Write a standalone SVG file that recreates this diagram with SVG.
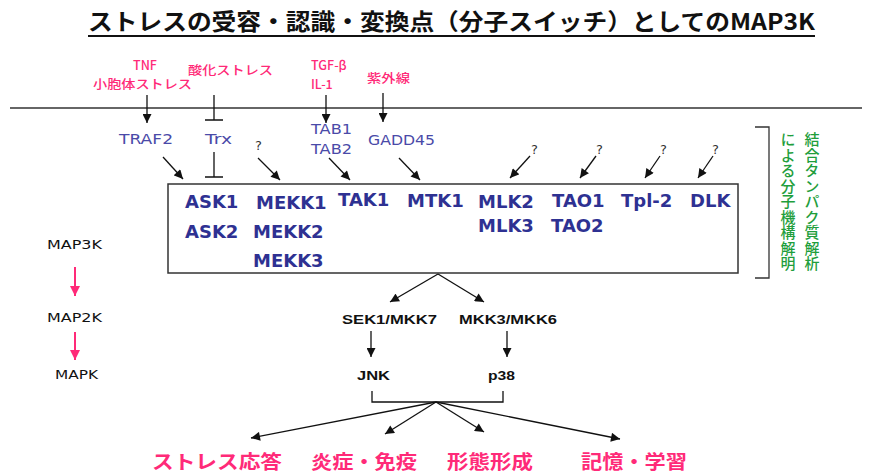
<svg xmlns="http://www.w3.org/2000/svg" width="870" height="475" viewBox="0 0 870 475">
<defs>
<style>
.title{font-family:"Noto Sans CJK JP","Noto Sans",sans-serif;font-weight:700;font-size:23px;fill:#111}
.pink{font-family:"Noto Sans CJK JP","Noto Sans",sans-serif;font-weight:500;font-size:12.5px;fill:#ff2a78}
.thin{font-family:"DejaVu Sans","Noto Sans",sans-serif;font-size:14px;fill:#4a4aa8}
.kin{font-family:"DejaVu Sans","Noto Sans",sans-serif;font-weight:700;font-size:18px;fill:#2e3192}
.q{font-family:"DejaVu Sans",sans-serif;font-size:13px;fill:#333}
.lvl{font-family:"DejaVu Sans",sans-serif;font-size:13px;fill:#111}
.blk{font-family:"Liberation Sans",Arial,sans-serif;font-weight:700;font-size:13px;fill:#111}
.out{font-family:"Noto Sans CJK JP","Noto Sans",sans-serif;font-weight:700;font-size:19px;fill:#ff2a78}
.green{font-family:"Noto Sans CJK JP","Noto Sans",sans-serif;font-weight:500;font-size:15px;fill:#1f9e3c;writing-mode:vertical-rl;letter-spacing:0.5px}
.ln{stroke:#111;stroke-width:1.3;fill:none}
.arr{stroke:#111;stroke-width:1.3;fill:none;marker-end:url(#ah)}
.parr{stroke:#ff2a78;stroke-width:2;fill:none;marker-end:url(#ph)}
</style>
<marker id="ah" viewBox="0 0 10 10" refX="10" refY="5" markerWidth="10" markerHeight="9" markerUnits="userSpaceOnUse" orient="auto"><path d="M0,0 L10,5 L0,10 z" fill="#111"/></marker>
<marker id="ph" viewBox="0 0 10 10" refX="10" refY="5" markerWidth="10" markerHeight="11" markerUnits="userSpaceOnUse" orient="auto"><path d="M0,0 L10,5 L0,10 z" fill="#ff2a78"/></marker>
</defs>
<rect width="870" height="475" fill="#fff"/>

<g id="title">
<text class="title" x="88" y="30" textLength="727" lengthAdjust="spacingAndGlyphs">ストレスの受容・認識・変換点（分子スイッチ）としてのMAP3K</text>
<line x1="88" y1="36" x2="815" y2="36" stroke="#111" stroke-width="2"/>
</g>

<g id="membrane"><line x1="10" y1="108" x2="862" y2="108" stroke="#333" stroke-width="1.3"/></g>

<g id="stimuli">
<text class="pink" x="145" y="70" text-anchor="middle">TNF</text>
<text class="pink" x="93" y="89" textLength="99" lengthAdjust="spacingAndGlyphs">小胞体ストレス</text>
<text class="pink" x="188" y="75" textLength="85" lengthAdjust="spacingAndGlyphs">酸化ストレス</text>
<text class="pink" x="311" y="70">TGF-β</text>
<text class="pink" x="311" y="89">IL-1</text>
<text class="pink" x="367" y="83" textLength="43" lengthAdjust="spacingAndGlyphs">紫外線</text>
</g>

<g id="adaptors">
<text class="thin" x="119" y="144" textLength="54" lengthAdjust="spacingAndGlyphs">TRAF2</text>
<text class="thin" x="205" y="144" textLength="27" lengthAdjust="spacingAndGlyphs">Trx</text>
<text class="thin" x="311" y="134" textLength="41" lengthAdjust="spacingAndGlyphs">TAB1</text>
<text class="thin" x="311" y="154" textLength="41" lengthAdjust="spacingAndGlyphs">TAB2</text>
<text class="thin" x="368" y="145" textLength="67" lengthAdjust="spacingAndGlyphs">GADD45</text>
<text class="q" x="255" y="150">?</text>
<text class="q" x="531" y="154">?</text>
<text class="q" x="596" y="154">?</text>
<text class="q" x="660" y="154">?</text>
<text class="q" x="712" y="154">?</text>
</g>

<g id="map3k-box">
<rect x="168" y="184" width="570" height="89" fill="#fff" stroke="#333" stroke-width="1.5"/>
<text class="kin" x="185" y="208">ASK1</text>
<text class="kin" x="185" y="238">ASK2</text>
<text class="kin" x="256" y="209">MEKK1</text>
<text class="kin" x="253" y="238">MEKK2</text>
<text class="kin" x="253" y="267">MEKK3</text>
<text class="kin" x="338" y="206">TAK1</text>
<text class="kin" x="407" y="207">MTK1</text>
<text class="kin" x="478" y="208">MLK2</text>
<text class="kin" x="478" y="232">MLK3</text>
<text class="kin" x="552" y="207">TAO1</text>
<text class="kin" x="551" y="232">TAO2</text>
<text class="kin" x="621" y="207">Tpl-2</text>
<text class="kin" x="690" y="207">DLK</text>
</g>

<g id="annotation">
<path d="M755,127 H769 V278 H755" fill="none" stroke="#333" stroke-width="1.3"/>
<text class="green" x="812" y="132">結合タンパク質解析</text>
<text class="green" x="788" y="132">による分子機構解明</text>
</g>

<g id="levels">
<text class="lvl" x="47" y="249" textLength="55" lengthAdjust="spacingAndGlyphs">MAP3K</text>
<text class="lvl" x="47" y="322" textLength="55" lengthAdjust="spacingAndGlyphs">MAP2K</text>
<text class="lvl" x="55" y="379" textLength="43" lengthAdjust="spacingAndGlyphs">MAPK</text>
</g>

<g id="map2k">
<text class="blk" x="342" y="324" textLength="95" lengthAdjust="spacingAndGlyphs">SEK1/MKK7</text>
<text class="blk" x="459" y="324" textLength="98" lengthAdjust="spacingAndGlyphs">MKK3/MKK6</text>
</g>
<g id="mapk">
<text class="blk" x="357" y="380" textLength="33" lengthAdjust="spacingAndGlyphs">JNK</text>
<text class="blk" x="488" y="380" textLength="27" lengthAdjust="spacingAndGlyphs">p38</text>
</g>

<g id="responses">
<text class="out" x="152" y="469" textLength="130" lengthAdjust="spacingAndGlyphs">ストレス応答</text>
<text class="out" x="311" y="469" textLength="106" lengthAdjust="spacingAndGlyphs">炎症・免疫</text>
<text class="out" x="447" y="469" textLength="86" lengthAdjust="spacingAndGlyphs">形態形成</text>
<text class="out" x="581" y="469" textLength="106" lengthAdjust="spacingAndGlyphs">記憶・学習</text>
</g>

<g id="connectors">
<line class="arr" x1="147" y1="95" x2="147" y2="123"/>
<path class="ln" d="M214,95 V120 M205,120 H223"/>
<line class="arr" x1="326" y1="95" x2="326" y2="123"/>
<line class="arr" x1="383" y1="93" x2="383" y2="122"/>

<line class="arr" x1="163" y1="157" x2="183" y2="179"/>
<path class="ln" d="M214,152 V177 M205,177 H223"/>
<line class="arr" x1="258" y1="158" x2="280" y2="180"/>
<line class="arr" x1="329" y1="158" x2="350" y2="180"/>
<line class="arr" x1="399" y1="158" x2="420" y2="180"/>
<line class="arr" x1="530" y1="156" x2="510" y2="178"/>
<line class="arr" x1="596" y1="156" x2="580" y2="178"/>
<line class="arr" x1="660" y1="156" x2="645" y2="178"/>
<line class="arr" x1="713" y1="156" x2="698" y2="178"/>

<line class="parr" x1="75" y1="267" x2="75" y2="296"/>
<line class="parr" x1="75" y1="332" x2="75" y2="360"/>

<line class="arr" x1="438" y1="274" x2="390" y2="302"/>
<line class="arr" x1="438" y1="274" x2="484" y2="302"/>
<line class="arr" x1="371" y1="331" x2="371" y2="357"/>
<line class="arr" x1="507" y1="331" x2="507" y2="357"/>

<path class="ln" d="M372,391 V402 H503 V391"/>
<line class="arr" x1="436" y1="402" x2="251" y2="438"/>
<line class="arr" x1="436" y1="402" x2="385" y2="434"/>
<line class="arr" x1="436" y1="402" x2="484" y2="432"/>
<line class="arr" x1="436" y1="402" x2="620" y2="439"/>
</g>
</svg>
